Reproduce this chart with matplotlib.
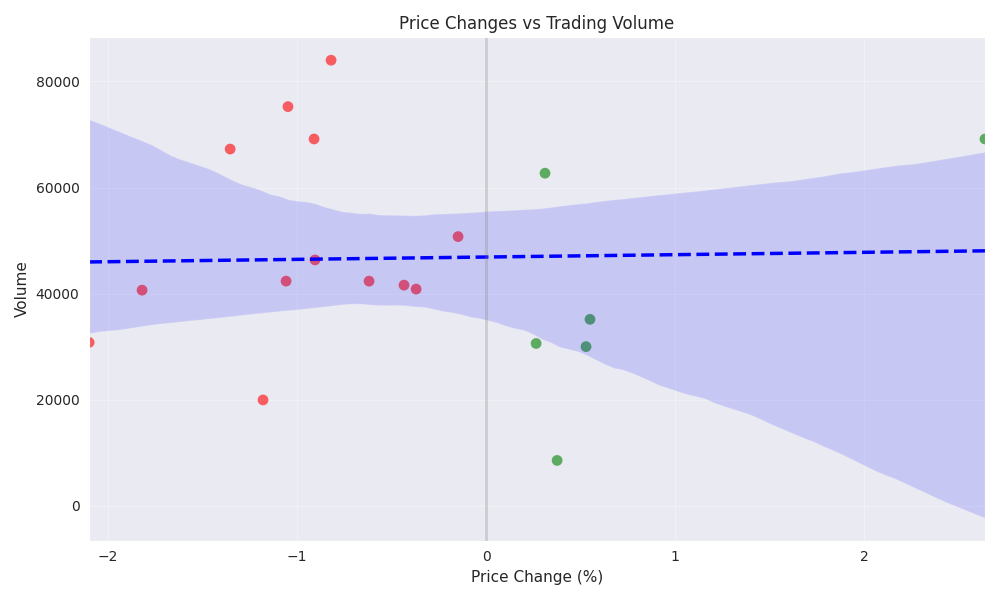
import numpy as np
import matplotlib
matplotlib.use("Agg")
import matplotlib.pyplot as plt
import seaborn as sns

price_change = [-2.10, -1.82, -1.354, -1.18, -1.048, -1.058, -0.910, -0.905,
                -0.820, -0.619, -0.434, -0.370, -0.148,
                0.265, 0.312, 0.376, 0.529, 0.550, 2.640]
volume = [30800, 40650, 67250, 19950, 75250, 42350, 69150, 46350,
          84000, 42350, 41600, 40850, 50750,
          30600, 62700, 8550, 30000, 35150, 69150]

sns.set_style("darkgrid")

x = np.array(price_change)
y = np.array(volume)
colors = ["red" if v < 0 else "green" for v in x]

fig, ax = plt.subplots(figsize=(10, 6), dpi=100)

ax.scatter(x, y, c=colors, s=60, alpha=0.6, linewidths=0)
sns.regplot(x=x, y=y, scatter=False, color="blue", ax=ax, seed=7,
            line_kws={"linestyle": "--", "linewidth": 2.5})
ax.axvline(0, color="gray", alpha=0.3, linewidth=2)

ax.set_xlim(x.min(), x.max())
ax.set_title("Price Changes vs Trading Volume", fontsize=12)
ax.set_xlabel("Price Change (%)", fontsize=11)
ax.set_ylabel("Volume", fontsize=11)
ax.grid(True, alpha=0.3)

plt.tight_layout()
plt.savefig("out.png", dpi=100)
